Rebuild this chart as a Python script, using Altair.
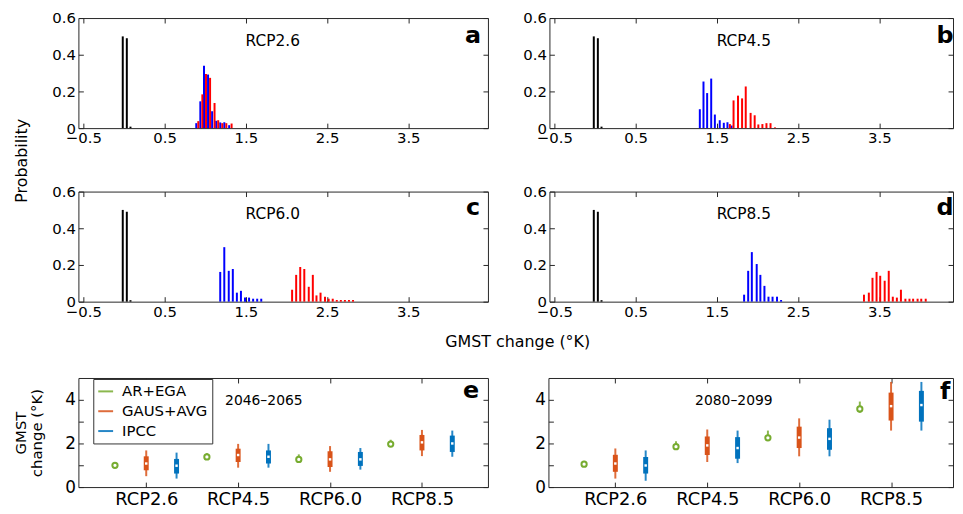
import json
import altair as alt
import pandas as pd

FONT = "DejaVu Sans"

# ---------------- histogram panels (a-d) ----------------
hist_ticks_x = [-0.5, 0.5, 1.5, 2.5, 3.5]
hist_ticks_y = [0.0, 0.2, 0.4, 0.6]

obs_x = [-0.015, 0.035, 0.08]
obs_p = [0.50, 0.49, 0.008]

a_blue_x = [0.89, 0.94, 0.985, 1.035, 1.085, 1.135, 1.185, 1.235, 1.295]
a_blue_p = [0.027, 0.146, 0.34, 0.292, 0.092, 0.04, 0.031, 0.032, 0.016]
a_red_x = [0.915, 0.965, 1.01, 1.06, 1.115, 1.16, 1.21, 1.26, 1.325]
a_red_p = [0.038, 0.184, 0.295, 0.274, 0.137, 0.043, 0.027, 0.027, 0.025]

b_blue_x = [1.29, 1.335, 1.38, 1.43, 1.475, 1.535, 1.585, 1.63, 1.68]
b_blue_p = [0.103, 0.254, 0.191, 0.270, 0.074, 0.043, 0.029, 0.032, 0.014]
b_red_x = [1.66, 1.705, 1.76, 1.81, 1.855, 1.915, 1.965, 2.01, 2.06, 2.11, 2.16, 2.215]
b_red_p = [0.022, 0.151, 0.177, 0.162, 0.227, 0.083, 0.070, 0.020, 0.022, 0.027, 0.027, 0.004]

c_blue_x = [1.185, 1.235, 1.29, 1.34, 1.39, 1.44, 1.49, 1.54, 1.59, 1.64, 1.69]
c_blue_p = [0.162, 0.297, 0.168, 0.178, 0.049, 0.059, 0.022, 0.022, 0.016, 0.016, 0.016]
c_red_x = [2.07, 2.12, 2.17, 2.22, 2.275, 2.325, 2.37, 2.42, 2.475, 2.52, 2.57, 2.62, 2.67, 2.72, 2.77, 2.82]
c_red_p = [0.065, 0.146, 0.189, 0.178, 0.081, 0.146, 0.034, 0.049, 0.027, 0.016, 0.016, 0.009, 0.009, 0.009, 0.009, 0.009]

d_blue_x = [1.835, 1.885, 1.93, 1.99, 2.035, 2.085, 2.135, 2.185, 2.24, 2.29]
d_blue_p = [0.038, 0.168, 0.270, 0.205, 0.146, 0.086, 0.027, 0.027, 0.027, 0.009]
d_red_x = [3.31, 3.37, 3.415, 3.465, 3.51, 3.565, 3.615, 3.665, 3.715, 3.765, 3.82, 3.87, 3.915, 3.97, 4.015, 4.07]
d_red_p = [0.038, 0.049, 0.130, 0.162, 0.141, 0.114, 0.168, 0.027, 0.022, 0.065, 0.016, 0.016, 0.016, 0.016, 0.016, 0.016]

hist_colors = ["#000000", "#0000ff", "#ff0000"]

# ---------------- box panels (e-f) ----------------
scenarios = ["RCP2.6", "RCP4.5", "RCP6.0", "RCP8.5"]
methods = ["AR+EGA", "GAUS+AVG", "IPCC"]
method_colors = ["#77AC30", "#D95319", "#0072BD"]
method_offsets = [-0.34, 0.0, 0.33]

e_ar_med = [1.0, 1.38, 1.27, 1.97]
e_ar_lo = [0.95, 1.33, 1.2, 1.9]
e_ar_hi = [1.15, 1.56, 1.5, 2.17]
e_gaus_med = [1.08, 1.47, 1.27, 2.05]
e_gaus_q1 = [0.77, 1.15, 0.92, 1.68]
e_gaus_q3 = [1.41, 1.76, 1.64, 2.39]
e_gaus_lo = [0.5, 0.89, 0.7, 1.42]
e_gaus_hi = [1.68, 1.98, 1.88, 2.62]
e_ipcc_med = [0.98, 1.39, 1.27, 2.0]
e_ipcc_q1 = [0.62, 1.08, 0.97, 1.61]
e_ipcc_q3 = [1.29, 1.68, 1.61, 2.36]
e_ipcc_lo = [0.39, 0.89, 0.8, 1.39]
e_ipcc_hi = [1.58, 1.98, 1.79, 2.59]

f_ar_med = [1.05, 1.85, 2.26, 3.58]
f_ar_lo = [1.0, 1.8, 2.2, 3.4]
f_ar_hi = [1.2, 2.1, 2.59, 3.92]
f_gaus_med = [1.08, 1.91, 2.27, 3.71]
f_gaus_q1 = [0.70, 1.47, 1.79, 3.05]
f_gaus_q3 = [1.48, 2.32, 2.77, 4.33]
f_gaus_lo = [0.39, 1.15, 1.41, 2.59]
f_gaus_hi = [1.77, 2.64, 3.15, 4.82]
f_ipcc_med = [0.99, 1.79, 2.21, 3.76]
f_ipcc_q1 = [0.62, 1.3, 1.71, 3.0]
f_ipcc_q3 = [1.38, 2.29, 2.7, 4.41]
f_ipcc_lo = [0.29, 1.1, 1.41, 2.59]
f_ipcc_hi = [1.68, 2.59, 3.09, 4.82]

box_ticks_y = [0, 1, 2, 3, 4]
box_ticks_x = [1, 2, 3, 4]


def text_layer(txt, x, y, size, weight="normal", angle=0, align="center", baseline="middle"):
    return alt.Chart(pd.DataFrame({"t": [txt]})).mark_text(
        fontSize=size, fontWeight=weight, angle=angle, align=align,
        baseline=baseline, font=FONT, color="#000000"
    ).encode(text="t:N", x=alt.value(x), y=alt.value(y))


def hist_panel(blue_x, blue_p, red_x, red_p, label, letter, width, xmax,
               letter_x, letter_y, extra=()):
    rows = []
    for xs_, ps_, col in ((obs_x, obs_p, hist_colors[0]), (blue_x, blue_p, hist_colors[1]),
                          (red_x, red_p, hist_colors[2])):
        for x, p in zip(xs_, ps_):
            rows.append({"x": x, "p": p, "c": col})
    df = pd.DataFrame(rows)
    xs = alt.Scale(domain=[-0.5, xmax], nice=False, zero=False)
    ys = alt.Scale(domain=[0, 0.6], nice=False, zero=False)
    bars = alt.Chart(df).mark_bar(size=2).encode(
        x=alt.X("x:Q", scale=xs, axis=alt.Axis(
            values=hist_ticks_x,
            labelExpr="replace(format(datum.value, '.1f'), '-', '\u2212')", offset=-5,
            tickSize=5, domain=False, grid=False, title=None, labelFontSize=15,
            labelPadding=3)),
        y=alt.Y("p:Q", scale=ys, axis=alt.Axis(
            values=hist_ticks_y,
            labelExpr="datum.value == 0 ? '0' : format(datum.value, '.1f')",
            offset=-5, tickSize=5, domain=False, grid=False, title=None,
            labelFontSize=15, labelPadding=3)),
        color=alt.Color("c:N", scale=None),
    )
    frame = alt.Chart(df).mark_point(opacity=0).encode(
        x=alt.X("x:Q", scale=xs, axis=alt.Axis(
            orient="top", values=hist_ticks_x, labels=False, offset=-5, tickSize=5,
            domain=False, grid=False, title=None)),
        y=alt.Y("p:Q", scale=ys, axis=alt.Axis(
            orient="right", values=hist_ticks_y, labels=False, offset=-5, tickSize=5,
            domain=False, grid=False, title=None)),
    )
    layers = [bars, frame,
              text_layer(label, 196, 23, 15.5),
              text_layer(letter, letter_x, letter_y, 24, weight="bold", baseline="alphabetic")]
    layers += list(extra)
    return alt.layer(*layers).resolve_axis(x="independent", y="independent").properties(
        width=width, height=111)


def box_table(ar_med, ar_lo, ar_hi, g_med, g_q1, g_q3, g_lo, g_hi, i_med, i_q1, i_q3, i_lo, i_hi):
    rows = []
    for k in range(len(scenarios)):
        rows.append(dict(pos=k + 1 + method_offsets[0], method=methods[0], med=ar_med[k],
                         q1=ar_med[k], q3=ar_med[k], lo=ar_lo[k], hi=ar_hi[k]))
        rows.append(dict(pos=k + 1 + method_offsets[1], method=methods[1], med=g_med[k],
                         q1=g_q1[k], q3=g_q3[k], lo=g_lo[k], hi=g_hi[k]))
        rows.append(dict(pos=k + 1 + method_offsets[2], method=methods[2], med=i_med[k],
                         q1=i_q1[k], q3=i_q3[k], lo=i_lo[k], hi=i_hi[k]))
    return pd.DataFrame(rows)


LEGEND = alt.Legend(orient="none", legendX=15, legendY=364, title=None, symbolType="stroke",
                    symbolStrokeWidth=2, symbolSize=225, labelFontSize=15, labelFont=FONT,
                    strokeColor="#333333", fillColor="#ffffff", padding=4, rowPadding=3,
                    labelOffset=8, cornerRadius=0)


def box_panel(df, period, letter, width, xmin, xmax, ytitle, letter_x, letter_y, legend):
    xs = alt.Scale(domain=[xmin, xmax], nice=False, zero=False)
    ys = alt.Scale(domain=[0, 5], nice=False, zero=False)
    cs = alt.Scale(domain=methods, range=method_colors)
    lab = json.dumps(scenarios) + "[datum.value - 1]"
    yaxis_kw = dict(values=box_ticks_y, labelExpr="datum.value % 2 == 0 ? datum.label : ''",
                    offset=-5, tickSize=5, domain=False, grid=False, labelFontSize=17,
                    labelPadding=3)
    if ytitle:
        yaxis_kw.update(title=ytitle, titleFontSize=15, titleFontWeight="normal",
                        titlePadding=20, titleFont=FONT)
    else:
        yaxis_kw.update(title=None)
    base = alt.Chart(df)
    whisk = base.mark_rule(strokeWidth=2, opacity=0.85).encode(
        x=alt.X("pos:Q", scale=xs, axis=alt.Axis(
            values=box_ticks_x, labelExpr=lab, offset=-5, tickSize=5, domain=False,
            grid=False, title=None, labelFontSize=18, labelPadding=4)),
        y=alt.Y("lo:Q", scale=ys, axis=alt.Axis(**yaxis_kw)),
        y2="hi:Q",
        color=alt.Color("method:N", scale=cs, legend=legend),
    )
    boxes = base.transform_filter(alt.datum.method != methods[0]).mark_bar(size=5).encode(
        x=alt.X("pos:Q", axis=None), y=alt.Y("q1:Q", axis=None), y2="q3:Q",
        color=alt.Color("method:N", scale=cs, legend=None))
    meds = base.transform_filter(alt.datum.method != methods[0]).mark_point(
        filled=True, color="#ffffff", size=6, shape="square", opacity=1).encode(
        x=alt.X("pos:Q", axis=None), y=alt.Y("med:Q", axis=None))
    green = base.transform_filter(alt.datum.method == methods[0]).mark_point(
        shape="circle", filled=False, fill="#ffffff", fillOpacity=1, strokeWidth=2,
        size=28, opacity=1).encode(
        x=alt.X("pos:Q", axis=None), y=alt.Y("med:Q", axis=None),
        color=alt.Color("method:N", scale=cs, legend=None))
    frame = base.mark_point(opacity=0).encode(
        x=alt.X("pos:Q", axis=alt.Axis(orient="top", values=box_ticks_x, labels=False,
                                        offset=-5, tickSize=5, domain=False, grid=False,
                                        title=None)),
        y=alt.Y("med:Q", axis=alt.Axis(orient="right", values=box_ticks_y, labels=False,
                                        offset=-5, tickSize=5, domain=False, grid=False,
                                        title=None)))
    layers = [whisk, boxes, meds, green, frame,
              text_layer(period, 187, 23, 14),
              text_layer(letter, letter_x, letter_y, 24, weight="bold", baseline="alphabetic")]
    return alt.layer(*layers).resolve_axis(x="independent", y="independent").properties(
        width=width, height=110)


pa = hist_panel(a_blue_x, a_blue_p, a_red_x, a_red_p, "RCP2.6", "a", 413, 4.42, 398, 25)
pb = hist_panel(b_blue_x, b_blue_p, b_red_x, b_red_p, "RCP4.5", "b", 407, 4.345, 399, 25)
pc = hist_panel(c_blue_x, c_blue_p, c_red_x, c_red_p, "RCP6.0", "c", 413, 4.42, 398, 24,
                extra=(text_layer("Probability", -57, -31, 16, angle=270),
                       text_layer("GMST change (°K)", 443, 152, 16)))
pd_ = hist_panel(d_blue_x, d_blue_p, d_red_x, d_red_p, "RCP8.5", "d", 407, 4.345, 399, 24)

df_e = box_table(e_ar_med, e_ar_lo, e_ar_hi, e_gaus_med, e_gaus_q1, e_gaus_q3, e_gaus_lo,
                 e_gaus_hi, e_ipcc_med, e_ipcc_q1, e_ipcc_q3, e_ipcc_lo, e_ipcc_hi)
df_f = box_table(f_ar_med, f_ar_lo, f_ar_hi, f_gaus_med, f_gaus_q1, f_gaus_q3, f_gaus_lo,
                 f_gaus_hi, f_ipcc_med, f_ipcc_q1, f_ipcc_q3, f_ipcc_lo, f_ipcc_hi)

pe = box_panel(df_e, "2046–2065", "e", 413, 0.316, 4.664, ["GMST", "change (°K)"], 396, 20, LEGEND)
pf = box_panel(df_f, "2080–2099", "f", 408, 0.326, 4.62, None, 400, 21, None)

row1 = alt.hconcat(pa, pb, spacing=62, bounds="flush")
row2 = alt.hconcat(pc, pd_, spacing=62, bounds="flush")
row3 = alt.hconcat(pe, pf, spacing=61, bounds="flush")

top = alt.vconcat(row1, row2, spacing=-29)
chart = alt.vconcat(top, row3, spacing=26).properties(
    padding={"left": 4, "top": 0, "right": 0, "bottom": 0}
).configure(font=FONT).configure_view(stroke="#262626", strokeWidth=1).configure_axis(
    labelFont=FONT, titleFont=FONT, labelColor="#000000", tickColor="#262626", tickWidth=1,
    titleColor="#000000"
)

chart.save("out.html", embed_options={"renderer": "svg", "actions": False})
